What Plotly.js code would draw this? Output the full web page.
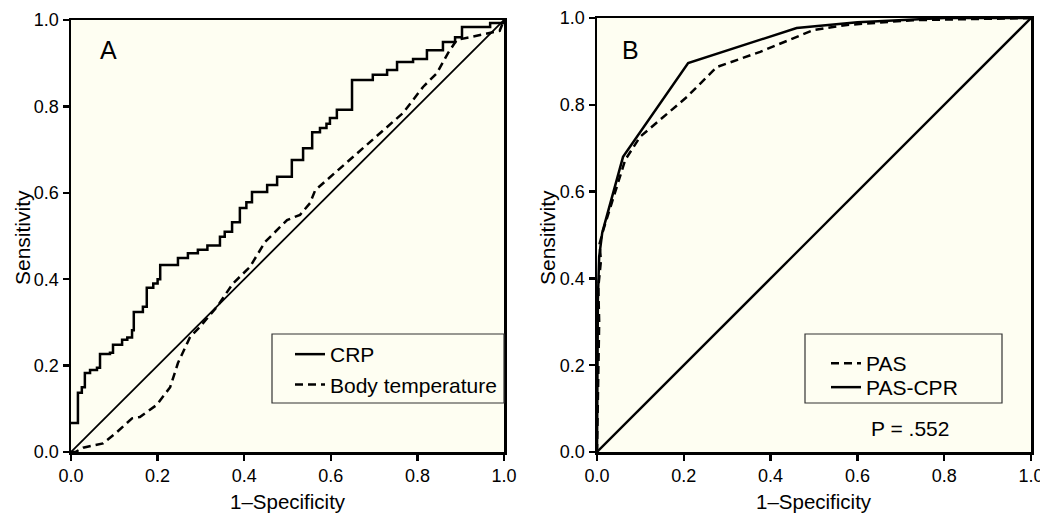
<!DOCTYPE html>
<html>
<head>
<meta charset="utf-8">
<script src="https://cdn.plot.ly/plotly-3.0.1.min.js"></script>
<style>html,body{margin:0;padding:0;background:#fff;}#chart{width:1040px;height:516px;}</style>
</head>
<body>
<div id="chart"></div>
<script>
// ---- Data ----
const tickVals = [0, 0.2, 0.4, 0.6, 0.8, 1.0];
const tickText = ["0.0", "0.2", "0.4", "0.6", "0.8", "1.0"];

// Panel A: CRP (step ROC)
const crpX = [0, 0.016, 0.025, 0.032, 0.044, 0.06, 0.067, 0.09, 0.097, 0.118, 0.13, 0.141, 0.145, 0.166, 0.175, 0.19, 0.2, 0.206, 0.247, 0.27, 0.293, 0.315, 0.344, 0.355, 0.372, 0.39, 0.405, 0.418, 0.453, 0.476, 0.51, 0.536, 0.557, 0.575, 0.59, 0.598, 0.614, 0.649, 0.697, 0.73, 0.753, 0.79, 0.822, 0.859, 0.887, 0.903, 0.968, 1];
const crpY = [0.067, 0.137, 0.15, 0.183, 0.19, 0.195, 0.227, 0.23, 0.248, 0.26, 0.265, 0.282, 0.324, 0.336, 0.38, 0.39, 0.40, 0.433, 0.449, 0.46, 0.468, 0.478, 0.498, 0.51, 0.532, 0.565, 0.578, 0.602, 0.618, 0.637, 0.676, 0.703, 0.74, 0.75, 0.76, 0.773, 0.792, 0.861, 0.873, 0.884, 0.903, 0.91, 0.93, 0.949, 0.96, 0.984, 0.993, 1];

// Panel A: Body temperature
const tempX = [0, 0.01, 0.028, 0.074, 0.106, 0.141, 0.159, 0.198, 0.229, 0.247, 0.275, 0.298, 0.337, 0.374, 0.413, 0.448, 0.483, 0.499, 0.529, 0.552, 0.564, 0.591, 0.651, 0.714, 0.767, 0.813, 0.845, 0.871, 0.891, 0.921, 0.99, 1];
const tempY = [0, 0, 0.01, 0.02, 0.046, 0.078, 0.081, 0.109, 0.15, 0.206, 0.266, 0.29, 0.336, 0.39, 0.428, 0.486, 0.521, 0.537, 0.549, 0.576, 0.606, 0.63, 0.683, 0.738, 0.785, 0.845, 0.877, 0.924, 0.954, 0.96, 0.975, 1];

// Panel B: PAS and PAS-CPR
const pasX = [0, 0.005, 0.003, 0.009, 0.006, 0.014, 0.065, 0.099, 0.207, 0.276, 0.376, 0.461, 0.498, 0.576, 0.728, 1];
const pasY = [0, 0.3, 0.38, 0.44, 0.48, 0.51, 0.673, 0.726, 0.818, 0.887, 0.922, 0.956, 0.972, 0.984, 0.995, 1];
const pascprX = [0, 0.002, 0.005, 0.012, 0.06, 0.21, 0.46, 0.6, 0.8, 1];
const pascprY = [0, 0.35, 0.45, 0.505, 0.68, 0.896, 0.977, 0.99, 1, 1];

// Reference diagonal
const diagX = [0, 1];
const diagY = [0, 1];

// ---- Styling ----
const FONT = "Liberation Sans, Arial, Helvetica, sans-serif";
const W = 1040, H = 516;
const px = v => v / W, py = v => 1 - v / H;

const traces = [
  {x: crpX, y: crpY, type: "scatter", mode: "lines", name: "CRP", line: {color: "#000", width: 2.5, shape: "hv"}, xaxis: "x", yaxis: "y", legend: "legend", legendgroup: "a1"},
  {x: tempX, y: tempY, type: "scatter", mode: "lines", name: "Body temperature", line: {color: "#000", width: 2.5, dash: "8px,5px"}, xaxis: "x", yaxis: "y", legend: "legend", legendgroup: "a2"},
  {x: diagX, y: diagY, type: "scatter", mode: "lines", showlegend: false, line: {color: "#000", width: 1.8}, xaxis: "x", yaxis: "y"},
  {x: pasX, y: pasY, type: "scatter", mode: "lines", name: "PAS", line: {color: "#000", width: 2.5, dash: "8px,5px"}, xaxis: "x2", yaxis: "y2", legend: "legend2"},
  {x: pascprX, y: pascprY, type: "scatter", mode: "lines", name: "PAS-CPR", line: {color: "#000", width: 2.5}, xaxis: "x2", yaxis: "y2", legend: "legend3"},
  {x: diagX, y: diagY, type: "scatter", mode: "lines", showlegend: false, line: {color: "#000", width: 2.3}, xaxis: "x2", yaxis: "y2"}
];

function axis(domain, anchor) {
  return {
    domain: domain, anchor: anchor, range: [0, 1], fixedrange: true,
    tickvals: tickVals, ticktext: tickText, ticks: "outside", ticklen: 6, tickwidth: 2.5, tickcolor: "#000",
    showline: true, linecolor: "#000", linewidth: 2.5, mirror: true,
    showgrid: false, zeroline: false, ticklabeloverflow: "allow",
    tickfont: {family: FONT, size: 18, color: "#000"}
  };
}

const legFont = {family: FONT, size: 21, color: "#000"};
const ann = (text, x, y, size, extra) => Object.assign({text: text, xref: "paper", yref: "paper", x: px(x), y: py(y), xanchor: "center", yanchor: "middle", showarrow: false, font: {family: FONT, size: size, color: "#000"}}, extra || {});

const layout = {
  width: W, height: H,
  margin: {l: 0, r: 0, t: 0, b: 0},
  paper_bgcolor: "#ffffff",
  plot_bgcolor: "#fefef2",
  font: {family: FONT, color: "#000"},
  showlegend: true,
  xaxis: axis([px(71), px(504)], "y"),
  yaxis: axis([1 - 452 / H, 1 - 20 / H], "x"),
  xaxis2: axis([px(597), px(1031)], "y2"),
  yaxis2: axis([1 - 452 / H, 1 - 18 / H], "x2"),
  legend: {x: px(290), y: py(334), xanchor: "left", yanchor: "top", bgcolor: "rgba(0,0,0,0)", borderwidth: 0, tracegroupgap: 0, font: legFont},
  legend2: {x: px(826), y: py(343), xanchor: "left", yanchor: "top", bgcolor: "rgba(0,0,0,0)", borderwidth: 0, font: legFont},
  legend3: {x: px(826), y: py(367), xanchor: "left", yanchor: "top", bgcolor: "rgba(0,0,0,0)", borderwidth: 0, font: legFont},
  shapes: [
    {type: "rect", xref: "paper", yref: "paper", x0: px(272), x1: px(504), y0: py(403), y1: py(334), line: {color: "#333", width: 1.2}},
    {type: "rect", xref: "paper", yref: "paper", x0: px(805), x1: px(1002), y0: py(403), y1: py(334), line: {color: "#333", width: 1.2}}
  ],
  annotations: [
    ann("A", 108, 50, 25),
    ann("B", 630, 50, 25),
    ann("Sensitivity", 23, 238, 21, {textangle: -90}),
    ann("Sensitivity", 548, 238, 21, {textangle: -90}),
    ann("1–Specificity", 288, 501, 20.5),
    ann("1–Specificity", 814, 501, 20.5),
    ann("P = .552", 910, 428, 21)
  ]
};

Plotly.newPlot("chart", traces, layout, {staticPlot: true, displayModeBar: false});
</script>
</body>
</html>
